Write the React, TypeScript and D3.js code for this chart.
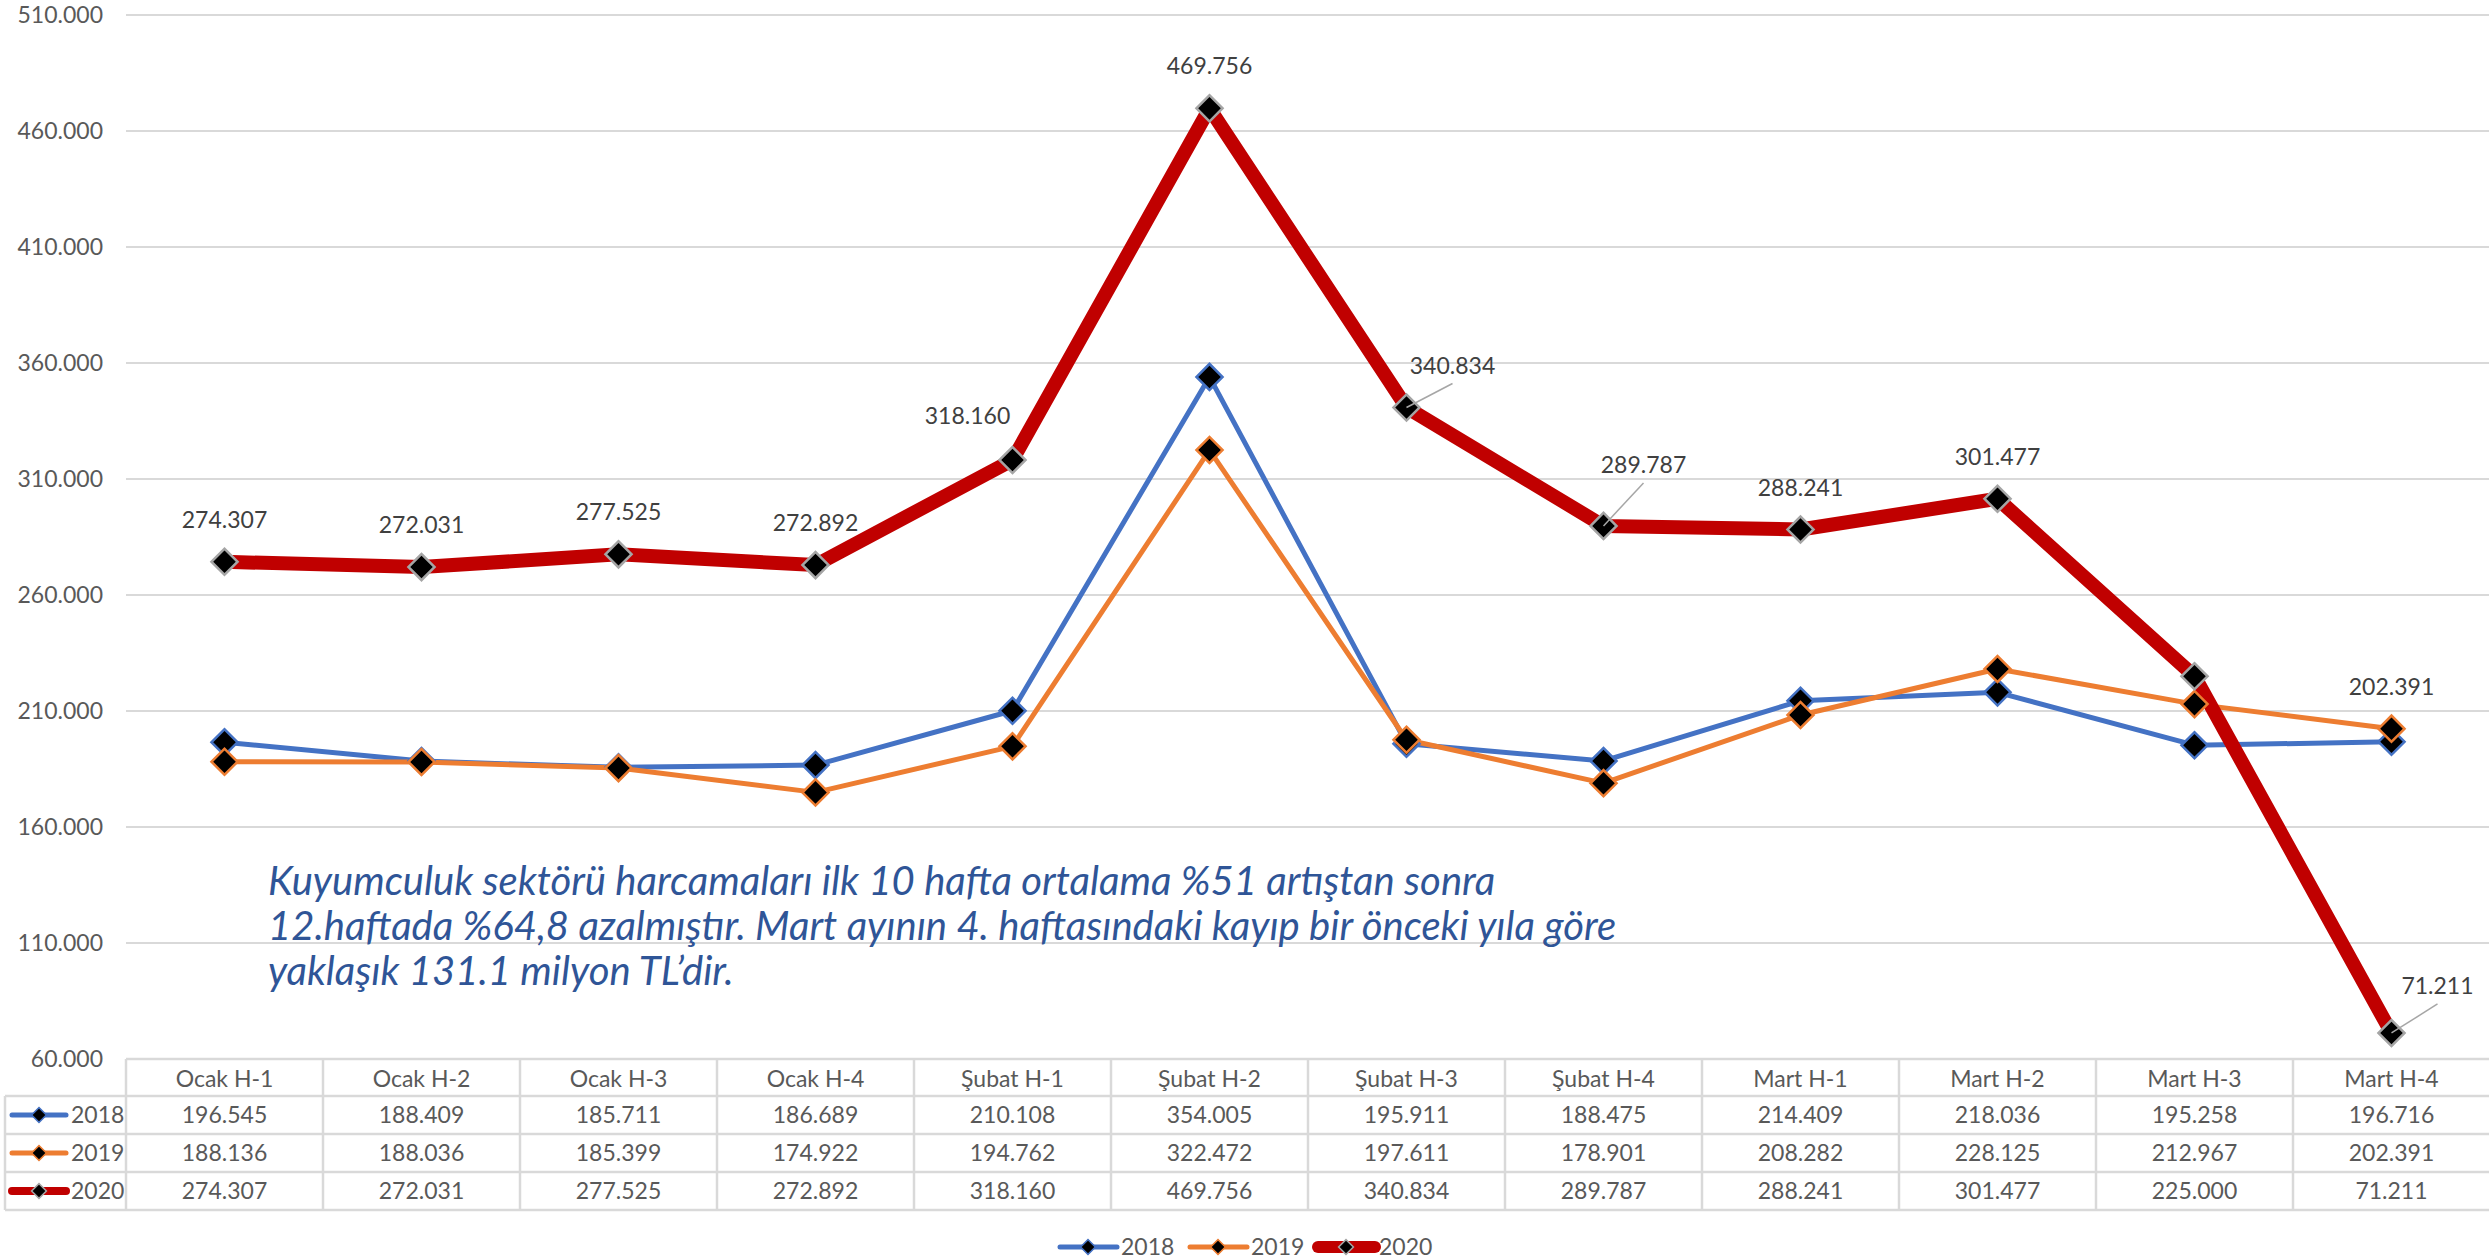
import React from "react";
import * as d3 from "d3";

const categories = ["Ocak H-1","Ocak H-2","Ocak H-3","Ocak H-4","Şubat H-1","Şubat H-2","Şubat H-3","Şubat H-4","Mart H-1","Mart H-2","Mart H-3","Mart H-4"];
const seriesNames = ["2018","2019","2020"];
const values2018 = [196545,188409,185711,186689,210108,354005,195911,188475,214409,218036,195258,196716];
const values2019 = [188136,188036,185399,174922,194762,322472,197611,178901,208282,228125,212967,202391];
const values2020 = [274307,272031,277525,272892,318160,469756,340834,289787,288241,301477,225000,71211];
const yTicks = [60000,110000,160000,210000,260000,310000,360000,410000,460000,510000];
const annotation = [
  "Kuyumculuk sektörü harcamaları ilk 10 hafta ortalama %51 artıştan sonra",
  "12.haftada %64,8 azalmıştır. Mart ayının 4. haftasındaki kayıp bir önceki yıla göre",
  "yaklaşık 131.1 milyon TL’dir.",
];
// which points carry data labels: [seriesIndex, categoryIndex]
const labeled = [[2,0],[2,1],[2,2],[2,3],[2,4],[2,5],[2,6],[2,7],[2,8],[2,9],[1,11],[2,11]];

const W = 2489, H = 1259;
const FONT = "Lato, 'Open Sans', sans-serif";
const colors = ["#4472C4","#ED7D31","#C00000"];
const markerStroke = ["#4472C4","#ED7D31","#A5A5A5"];
const lineWidths = [5,5,14];
const grid = "#D9D9D9";

// label placement offsets (style), keyed by "s-c"
const labelOffsets: Record<string,{dx:number,dy:number,leader?:boolean}> = {
  "2-4": {dx:-45, dy:-44},
  "2-6": {dx:46, dy:-42, leader:true},
  "2-7": {dx:40, dy:-61, leader:true},
  "2-11": {dx:46, dy:-47, leader:true},
};

const fmt = d3.formatLocale({decimal:",", thousands:".", grouping:[3], currency:["",""]}).format(",d");

export default function App() {
  const plotLeft = 126, plotRight = 2490;
  const x = d3.scaleBand<string>().domain(categories).range([plotLeft, plotRight]);
  const y = d3.scaleLinear().domain([60000, 510000]).range([1059, 15]);
  const cx = (c: string) => (x(c) as number) + x.bandwidth() / 2;
  const data = [values2018, values2019, values2020];
  const line = d3.line<number>().x((_, i) => cx(categories[i])).y(v => y(v));
  const diamond = (size: number) => d3.symbol().type(d3.symbolSquare).size(size)() as string;
  const bigD = diamond(340);
  const smallD = diamond(110);

  const tableTop = 1059, headerH = 37, rowH = 38;
  const rowTops = [tableTop + headerH, tableTop + headerH + rowH, tableTop + headerH + 2 * rowH];
  const tableBottom = tableTop + headerH + 3 * rowH;
  const fs = 23;

  return (
    <svg width={W} height={H} style={{position:"absolute", left:0, top:0, background:"#fff"}} fontFamily={FONT}>
      <style>{"body{margin:0}"}</style>
      <rect x={0} y={0} width={W} height={H} fill="#fff" />
      {/* gridlines and y ticks */}
      {yTicks.map(t => (
        <g key={t}>
          {t > 60000 && <line x1={plotLeft} x2={plotRight} y1={y(t)} y2={y(t)} stroke={grid} strokeWidth={2} />}
          <text x={103} y={y(t)} dy="0.35em" textAnchor="end" fontSize={fs} fill="#595959">{fmt(t)}</text>
        </g>
      ))}
      {/* annotation */}
      {annotation.map((s, i) => (
        <text key={i} x={268} y={895 + i * 45} fontSize={40} fontStyle="italic" fill="#2F5597">{s}</text>
      ))}
      {/* lines */}
      {data.map((vals, s) => (
        <path key={s} d={line(vals) as string} fill="none" stroke={colors[s]} strokeWidth={lineWidths[s]} strokeLinejoin="round" strokeLinecap="round" />
      ))}
      {/* markers */}
      {data.map((vals, s) => vals.map((v, i) => (
        <path key={s + "-" + i} d={bigD} transform={`translate(${cx(categories[i])},${y(v)}) rotate(45)`} fill="#000" stroke={markerStroke[s]} strokeWidth={2.5} />
      )))}
      {/* data labels */}
      {labeled.map(([s, c]) => {
        const px = cx(categories[c]);
        const py = y(data[s][c]);
        const off = labelOffsets[s + "-" + c] || {dx:0, dy:-42};
        const lx = px + off.dx, ly = py + off.dy;
        return (
          <g key={s + "_" + c}>
            {off.leader && <line x1={lx} y1={ly + 18} x2={px} y2={py} stroke="#A6A6A6" strokeWidth={1.5} />}
            <text x={lx} y={ly} dy="0.35em" textAnchor="middle" fontSize={fs} fill="#404040">{fmt(data[s][c])}</text>
          </g>
        );
      })}
      {/* data table */}
      <g stroke={grid} strokeWidth={2.5}>
        <line x1={plotLeft} x2={plotRight} y1={tableTop} y2={tableTop} />
        {[...rowTops, tableBottom].map((ry, i) => (
          <line key={i} x1={5} x2={plotRight} y1={ry} y2={ry} />
        ))}
        <line x1={5} x2={5} y1={rowTops[0]} y2={tableBottom} />
        {categories.map(c => (
          <line key={c} x1={x(c) as number} x2={x(c) as number} y1={tableTop} y2={tableBottom} />
        ))}
      </g>
      {categories.map(c => (
        <text key={c} x={cx(c)} y={tableTop + headerH / 2 + 1} dy="0.35em" textAnchor="middle" fontSize={fs} fill="#595959">{c}</text>
      ))}
      {data.map((vals, s) => (
        <g key={s}>
          <line x1={12} x2={66} y1={rowTops[s] + rowH / 2} y2={rowTops[s] + rowH / 2} stroke={colors[s]} strokeWidth={s === 2 ? 8 : 5} strokeLinecap="round" />
          <path d={smallD} transform={`translate(39,${rowTops[s] + rowH / 2}) rotate(45)`} fill="#000" stroke={markerStroke[s]} strokeWidth={1.5} />
          <text x={71} y={rowTops[s] + rowH / 2} dy="0.35em" fontSize={fs} fill="#595959">{seriesNames[s]}</text>
          {vals.map((v, i) => (
            <text key={i} x={cx(categories[i])} y={rowTops[s] + rowH / 2} dy="0.35em" textAnchor="middle" fontSize={fs} fill="#595959">{fmt(v)}</text>
          ))}
        </g>
      ))}
      {/* legend */}
      {seriesNames.map((n, s) => {
        const lx0 = [1060, 1190, 1318][s];
        const ly = 1247;
        return (
          <g key={n}>
            <line x1={lx0} x2={lx0 + 57} y1={ly} y2={ly} stroke={colors[s]} strokeWidth={s === 2 ? 12 : 5} strokeLinecap="round" />
            <path d={smallD} transform={`translate(${lx0 + 28},${ly}) rotate(45)`} fill="#000" stroke={markerStroke[s]} strokeWidth={1.5} />
            <text x={lx0 + 61} y={ly} dy="0.35em" fontSize={fs} fill="#595959">{n}</text>
          </g>
        );
      })}
    </svg>
  );
}
